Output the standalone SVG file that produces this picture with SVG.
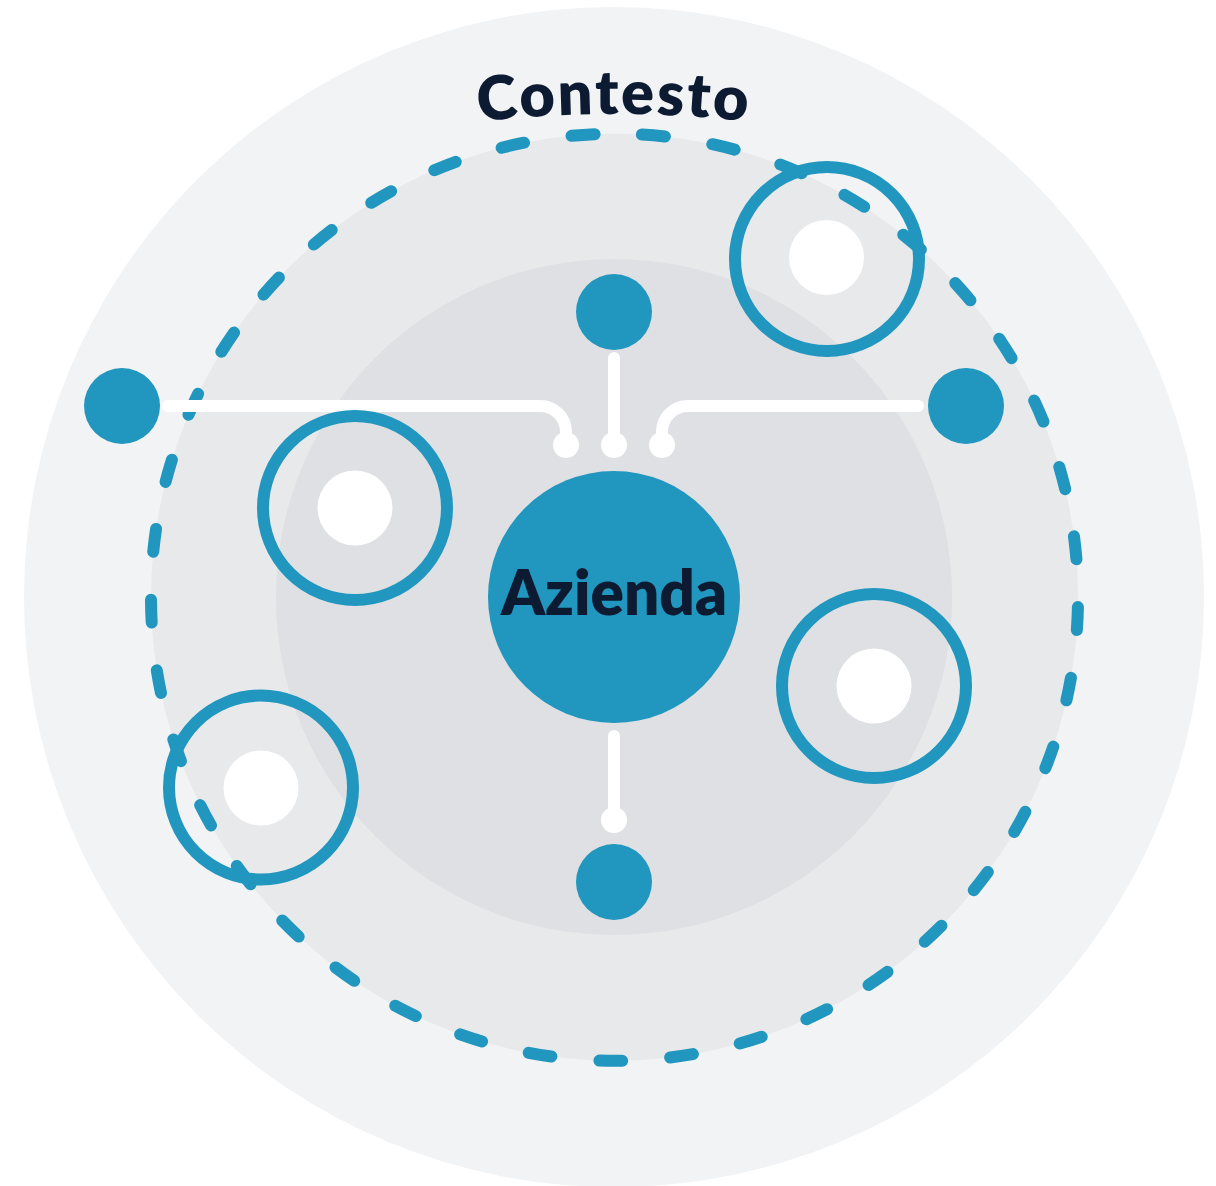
<svg xmlns="http://www.w3.org/2000/svg" width="1216" height="1186" viewBox="0 0 1216 1186">
<style>
.blue{fill:#2196be}
.ring{fill:none;stroke:#2196be;stroke-width:12}
.hole{fill:#ffffff}
.conn{fill:none;stroke:#ffffff;stroke-width:12;stroke-linecap:round}
.cdot{fill:#ffffff}
.lbl{font-family:Lato,"Liberation Sans",sans-serif;font-weight:800;fill:#0c1a32}
</style>
<defs>
<path id="arcText" d="M 314 152.1 A 1200 1200 0 0 1 914 152.1"/>
</defs>
<rect width="1216" height="1186" fill="#ffffff"/>
<g id="background">
<circle cx="614" cy="597" r="590" fill="#f2f3f5"/>
<circle cx="614.5" cy="597.3" r="463.5" fill="#e8e9eb"/>
<circle cx="614" cy="597" r="338" fill="#dfe0e3"/>
<path d="M 614.5 133.8 A 463.5 463.5 0 1 1 614.5 1060.8 A 463.5 463.5 0 1 1 614.5 133.8" fill="none" stroke="#2196be" stroke-width="12" stroke-linecap="round" stroke-dasharray="23 48.03" stroke-dashoffset="43.5"/>
</g>
<g id="title">
<text class="lbl" font-size="61" letter-spacing="2.5" text-anchor="middle"><textPath href="#arcText" startOffset="50%">Contesto</textPath></text>
</g>
<g id="connectors">
<path class="conn" d="M 168 406 H 540 A 26 26 0 0 1 566 432 V 445"/>
<path class="conn" d="M 614 358 V 445"/>
<path class="conn" d="M 918 406 H 688 A 26 26 0 0 0 662 432 V 445"/>
<path class="conn" d="M 614 736 V 820"/>
<circle class="cdot" cx="566" cy="445" r="13"/>
<circle class="cdot" cx="614" cy="445" r="13"/>
<circle class="cdot" cx="662" cy="445" r="13"/>
<circle class="cdot" cx="614" cy="820" r="13"/>
</g>
<g id="azienda">
<circle class="blue" cx="614" cy="597" r="126"/>
<text class="lbl" x="614" y="615" font-size="62" text-anchor="middle">Azienda</text>
</g>
<g id="dot-top"><circle class="blue" cx="614" cy="312" r="38"/></g>
<g id="dot-left"><circle class="blue" cx="122" cy="406" r="38"/></g>
<g id="dot-right"><circle class="blue" cx="966" cy="406" r="38"/></g>
<g id="dot-bottom"><circle class="blue" cx="614" cy="882" r="38"/></g>
<g id="ring-top-right"><circle class="ring" cx="827" cy="259" r="92"/><circle class="hole" cx="826.5" cy="257.5" r="37.5"/></g>
<g id="ring-left"><circle class="ring" cx="355" cy="508" r="92"/><circle class="hole" cx="355" cy="508" r="37.5"/></g>
<g id="ring-right"><circle class="ring" cx="874" cy="686" r="92"/><circle class="hole" cx="874" cy="686" r="37.5"/></g>
<g id="ring-bottom-left"><circle class="ring" cx="261" cy="787.5" r="92"/><circle class="hole" cx="261" cy="788" r="37.5"/></g>
</svg>
